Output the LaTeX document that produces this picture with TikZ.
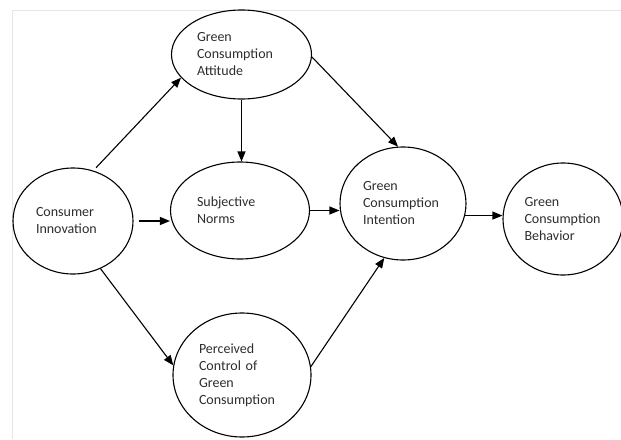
\documentclass[tikz,border=0pt]{standalone}
\usepackage{fontspec}
\setmainfont{Carlito}
\usetikzlibrary{shapes.geometric, arrows.meta, positioning, calc}
\definecolor{labelgray}{RGB}{45, 45, 45}
\tikzset{
  >=Stealth,
  patharrow/.style={-{Triangle[length=10pt, width=8pt]}, line width=1.1pt, black}
}

\begin{document}
\begin{tikzpicture}[x=1pt, y=-1pt,
    construct/.style={ellipse, draw=black, line width=1.1pt, inner sep=0pt, align=left, text=labelgray, font=\fontsize{14}{17}\selectfont}
]
    \useasboundingbox (0, 0) rectangle (621, 439);
    % faint frame of the figure
    \draw[black!10] (12, 439) |- (621, 10);

    % Left column
    \node[construct, minimum width=120pt, minimum height=106pt, text width=74pt] (ci) at (73, 221) {Consumer\\Innovation};

    % Middle column
    \node[construct, minimum width=140pt, minimum height=89pt, text width=89pt] (gca) at (241.5, 54.5) {Green\\Consumption\\Attitude};
    \node[construct, minimum width=139pt, minimum height=97pt, text width=86pt] (sn) at (240, 210.5) {Subjective\\Norms};
    \node[construct, minimum width=138pt, minimum height=124pt, text width=86pt] (pc) at (242, 375) {Perceived\\Control of\\Green\\Consumption};

    % Right column
    \node[construct, minimum width=126pt, minimum height=113pt, text width=80pt] (gci) at (403, 203.5) {Green\\Consumption\\Intention};
    \node[construct, minimum width=120pt, minimum height=112pt, text width=77pt] (gcb) at (563, 219) {Green\\Consumption\\Behavior};

    % Arrows out of Consumer Innovation
    \draw[patharrow, shorten <=4pt] (ci.68) -- (gca.201);
    \draw[patharrow, shorten <=5pt] (ci.east) -- (ci.east -| sn.west);
    \draw[patharrow] (ci.-60) -- (pc.172);

    % Arrows towards Green Consumption Intention
    \draw[patharrow] (gca.south) -- (gca.south |- sn.north);
    \draw[patharrow] (gca.-2) -- (gci.95);
    \draw[patharrow] (sn.east) -- (sn.east -| gci.west);
    \draw[patharrow] (pc.7) -- (gci.251);

    % Intention to Behavior
    \draw[patharrow] (gci.-11) -- (gci.-11 -| gcb.west);
\end{tikzpicture}
\end{document}
